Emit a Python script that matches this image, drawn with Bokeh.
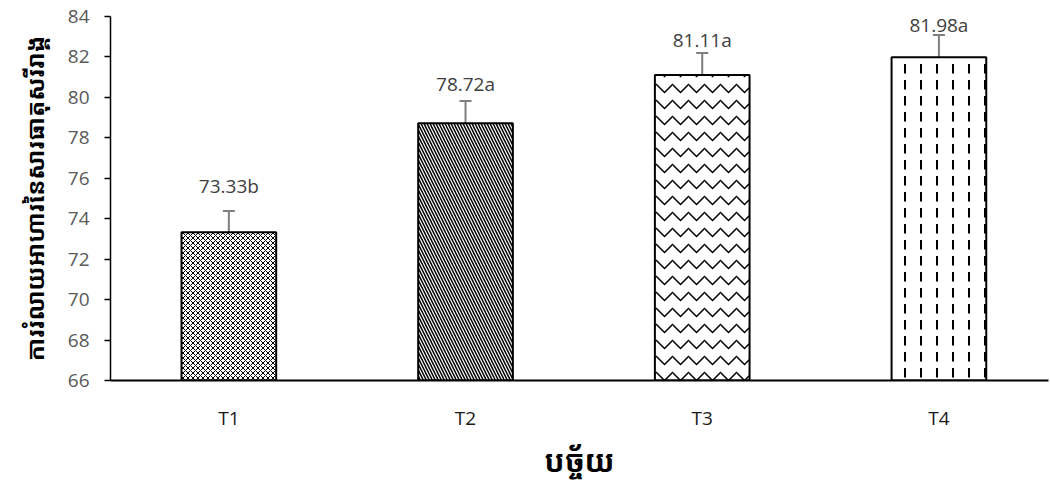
import numpy as np
from bokeh.plotting import figure
from bokeh.models import (ColumnDataSource, Range1d, FixedTicker, SingleIntervalTicker,
                          Whisker, TeeHead)
from bokeh.core.properties import value
from bokeh.embed import file_html
from bokeh.resources import INLINE

# ---- data ----
categories = ["T1", "T2", "T3", "T4"]
values = [73.33, 78.72, 81.11, 81.98]
errors = [1.05, 1.1, 1.08, 1.1]
letters = ["b", "a", "a", "a"]
y_title = "ការរំលាយអាហារនៃសារធាតុសរីរាង្គ"
x_title = "បច្ច័យ"

# ---- styles ----
hatches = ["diagonal_cross", "left_diagonal_line", "horizontal_wave", "vertical_dash"]
hatch_scales = [5, 6, 16, 16]
hatch_weights = [1.0, 1.5, 1.5, 2]
label_lift_px = [25, 17, 13, 10]
Y0, Y1 = 66, 84
KHMER = "'Noto Sans Khmer', 'Khmer OS', 'Noto Sans', sans-serif"

x = np.arange(len(categories)) + 0.5
vals = np.array(values)
errs = np.array(errors)

p = figure(frame_width=938, frame_height=364, output_backend="svg", toolbar_location=None,
           x_range=Range1d(0, 3.963), y_range=Range1d(Y0, Y1),
           min_border_left=110, min_border_right=2, min_border_top=16, min_border_bottom=60)
p.outline_line_color = None
p.grid.grid_line_color = None
p.background_fill_color = "white"

for i in range(len(categories)):
    src = ColumnDataSource(dict(x=[x[i]], top=[vals[i]]))
    p.vbar(x="x", top="top", bottom=Y0, width=0.40, source=src,
           fill_color="white", line_color="black", line_width=2,
           hatch_pattern=hatches[i], hatch_color="black",
           hatch_scale=hatch_scales[i], hatch_weight=hatch_weights[i])

err_src = ColumnDataSource(dict(base=x, upper=vals + errs, lower=vals - errs))
w = Whisker(base="base", upper="upper", lower="lower", source=err_src,
            line_color="#7f7f7f", line_width=2,
            upper_head=TeeHead(size=12, line_color="#7f7f7f", line_width=2),
            lower_head=TeeHead(size=12, line_color="#7f7f7f", line_width=2))
p.add_layout(w)

lab_src = ColumnDataSource(dict(
    x=x, y=vals + errs,
    text=[f"{v:.2f}{l}" for v, l in zip(values, letters)],
    dy=[-d for d in label_lift_px]))
p.text(x="x", y="y", text="text", y_offset="dy", source=lab_src,
       text_align="center", text_baseline="middle",
       text_font_size="19px", text_color="#404040", text_font=value("Open Sans"))

# axes
p.xaxis.ticker = FixedTicker(ticks=list(x))
p.xaxis.major_label_overrides = {float(xx): c for xx, c in zip(x, categories)}
p.xaxis.major_tick_line_color = None
p.xaxis.minor_tick_line_color = None
p.xaxis.major_tick_out = 0
p.xaxis.major_label_standoff = 24
p.xaxis.major_label_text_font = "Open Sans"
p.xaxis.major_label_text_font_size = "19px"
p.xaxis.major_label_text_color = "#1a1a1a"
p.xaxis.axis_line_color = "black"
p.xaxis.axis_line_width = 2
p.xaxis.axis_label = x_title
p.xaxis.axis_label_text_font = KHMER
p.xaxis.axis_label_text_font_size = "30px"
p.xaxis.axis_label_text_font_style = "bold"
p.xaxis.axis_label_text_color = "black"
p.xaxis.axis_label_standoff = 6

p.yaxis.ticker = SingleIntervalTicker(interval=2)
p.yaxis.minor_tick_line_color = None
p.yaxis.major_tick_in = 0
p.yaxis.major_tick_out = 6
p.yaxis.major_tick_line_color = "black"
p.yaxis.major_tick_line_width = 1.5
p.yaxis.axis_line_color = "black"
p.yaxis.axis_line_width = 1.5
p.yaxis.major_label_standoff = 15
p.yaxis.major_label_text_font = "Open Sans"
p.yaxis.major_label_text_font_size = "19px"
p.yaxis.major_label_text_color = "#595959"
p.yaxis.axis_label = y_title
p.yaxis.axis_label_text_font = KHMER
p.yaxis.axis_label_text_font_size = "24px"
p.yaxis.axis_label_text_font_style = "bold"
p.yaxis.axis_label_text_color = "black"
p.yaxis.axis_label_standoff = 14

open("out.html", "w").write(file_html(p, INLINE))
